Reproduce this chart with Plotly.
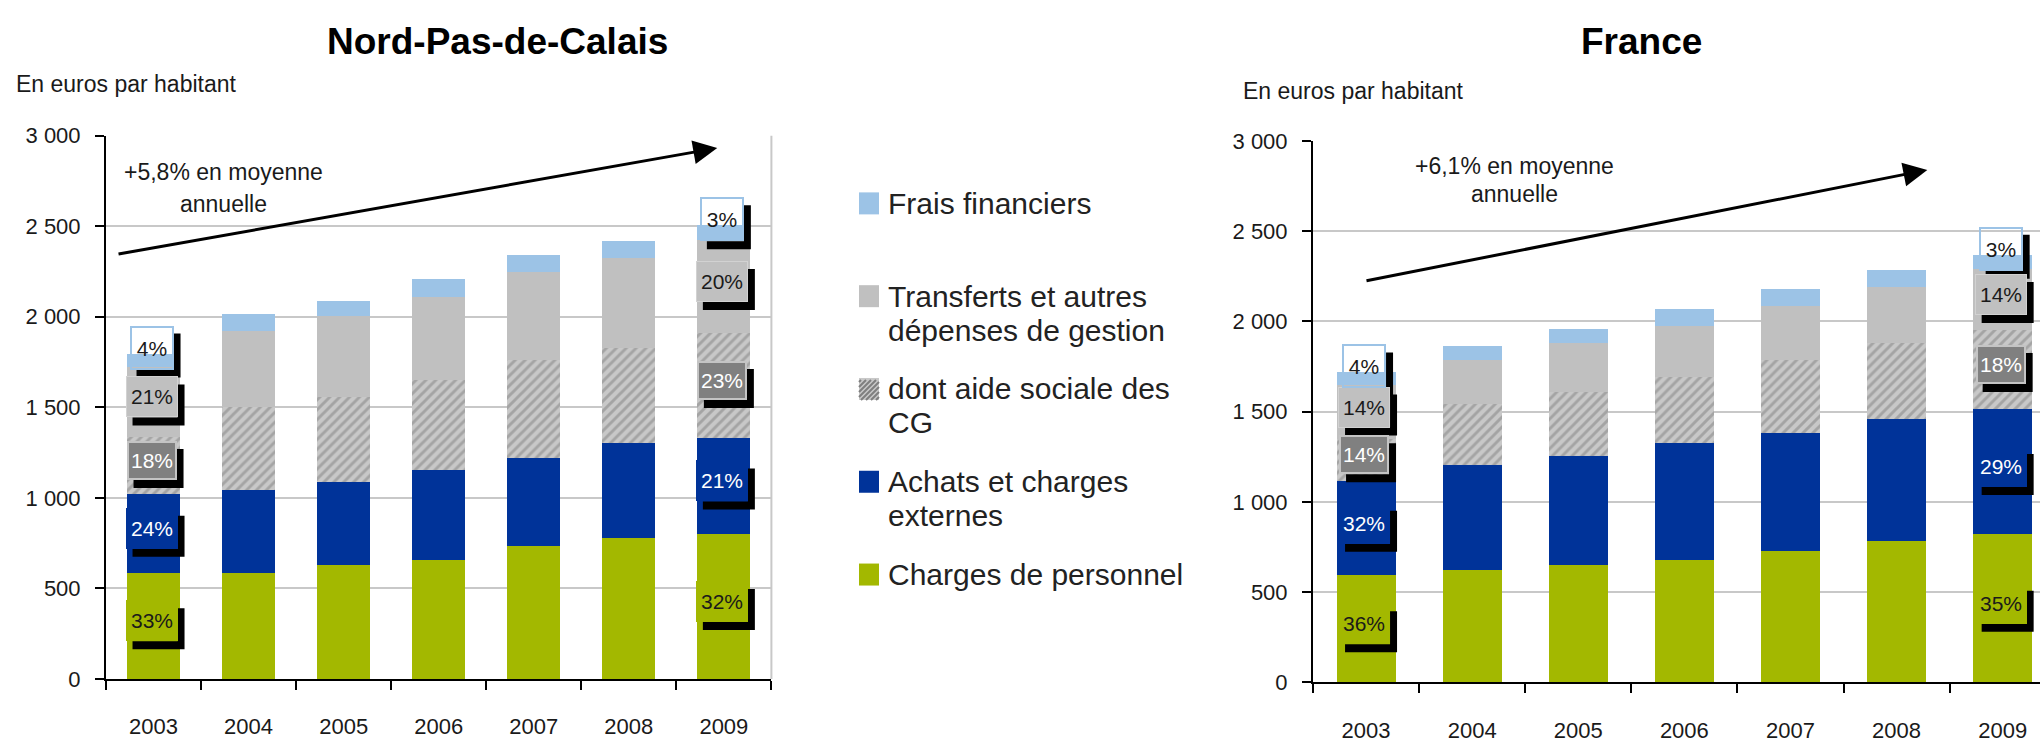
import plotly.graph_objects as go

# ---------------- data ----------------
years = ["2003", "2004", "2005", "2006", "2007", "2008", "2009"]

# Nord-Pas-de-Calais, euros per inhabitant (stack segments, bottom to top)
npdc_personnel = [587, 587, 628, 655, 735, 778, 800]
npdc_achats = [436, 458, 457, 498, 486, 524, 532]
npdc_aide_sociale = [312, 459, 472, 498, 541, 527, 578]
npdc_transferts = [390, 418, 445, 458, 484, 497, 515]
npdc_frais = [72, 94, 84, 97, 94, 94, 81]

# France
fr_personnel = [593, 620, 649, 676, 729, 783, 822]
fr_achats = [522, 582, 607, 649, 650, 676, 693]
fr_aide_sociale = [235, 339, 353, 366, 407, 421, 436]
fr_transferts = [295, 245, 269, 282, 298, 311, 339]
fr_frais = [72, 80, 81, 95, 94, 94, 79]

# percentage labels (bottom to top) for first and last year
npdc_pct_2003 = ["33%", "24%", "18%", "21%", "4%"]
npdc_pct_2009 = ["32%", "21%", "23%", "20%", "3%"]
fr_pct_2003 = ["36%", "32%", "14%", "14%", "4%"]
fr_pct_2009 = ["35%", "29%", "18%", "14%", "3%"]

series_names = ["Charges de personnel", "Achats et charges externes",
                "dont aide sociale des CG",
                "Transferts et autres dépenses de gestion", "Frais financiers"]
legend_labels = ["Frais financiers", "Transferts et autres<br>dépenses de gestion",
                 "dont aide sociale des<br>CG", "Achats et charges<br>externes",
                 "Charges de personnel"]

ytick_vals = [0, 500, 1000, 1500, 2000, 2500, 3000]
ytick_text = ["0", "500", "1 000", "1 500", "2 000", "2 500", "3 000"]

titles = ["Nord-Pas-de-Calais", "France"]
unit_label = "En euros par habitant"
growth_npdc = ["+5,8% en moyenne", "annuelle"]
growth_fr = ["+6,1% en moyenne", "annuelle"]

# ---------------- style ----------------
W, H = 2040, 748
FONT = "Liberation Sans, Arial, sans-serif"
GREEN = "#A3B800"
BLUE = "#003399"
GRAY = "#C0C0C0"
HATCH_BG = "#C8C8C8"
HATCH_FG = "#7F7F7F"
LBLUE = "#9CC3E6"
TXT = "#1a1a1a"
colors = [GREEN, BLUE, HATCH_BG, GRAY, LBLUE]


def px(x):
    return x / W


def py(y):
    return 1 - y / H


fig = go.Figure()

charts = [
    dict(xa="x", ya="y", series=[npdc_personnel, npdc_achats, npdc_aide_sociale, npdc_transferts, npdc_frais],
         pcts={0: npdc_pct_2003, 6: npdc_pct_2009}),
    dict(xa="x2", ya="y2", series=[fr_personnel, fr_achats, fr_aide_sociale, fr_transferts, fr_frais],
         pcts={0: fr_pct_2003, 6: fr_pct_2009}),
]

for ch in charts:
    for i, (name, vals) in enumerate(zip(series_names, ch["series"])):
        marker = dict(color=colors[i], line=dict(width=0))
        if i == 2:
            marker["pattern"] = dict(shape="/", bgcolor=HATCH_BG, fgcolor=HATCH_FG,
                                     size=7, solidity=0.42, fillmode="overlay")
        fig.add_trace(go.Bar(x=years, y=vals, name=name, marker=marker,
                             xaxis=ch["xa"], yaxis=ch["ya"], showlegend=False,
                             hoverinfo="skip"))

annotations = []
shapes = []

# label box styles per series
lab_style = [
    dict(bg=GREEN, bc=GREEN, bw=1, fc=TXT, w=46, h=35, pad=2),
    dict(bg=BLUE, bc=BLUE, bw=1, fc="white", w=46, h=35, pad=2),
    dict(bg="#808080", bc="#C4C4C4", bw=2, fc="white", w=44, h=33, pad=1),
    dict(bg=GRAY, bc="#D2D2D2", bw=1, fc=TXT, w=46, h=35, pad=2),
    dict(bg="rgba(0,0,0,0)", bc=LBLUE, bw=2, fc=TXT, w=38, h=38, pad=1),
]
SX, SY = -2, 5       # box offset from anchor (px, y up)
DX, DY = 7, 8        # drop-shadow offset


def shadow_path(sx, sy, hw, hh):
    pts = [(sx + hw, sy + hh - DY), (sx + hw + DX, sy + hh - DY), (sx + hw + DX, sy - hh - DY),
           (sx - hw + DX, sy - hh - DY), (sx - hw + DX, sy - hh), (sx + hw, sy - hh)]
    return "M " + " L ".join(f"{a},{b}" for a, b in pts) + " Z"


for ch in charts:
    for idx, labels in ch["pcts"].items():
        bottom = 0
        for i, txt in enumerate(labels):
            seg = ch["series"][i][idx]
            st = lab_style[i]
            if i == 4:
                yval = bottom + seg
                sy = 6
            else:
                yval = bottom + seg / 2
                sy = SY
            bottom += seg
            hw = (st["w"] + 2 * (st["bw"] + st["pad"])) / 2
            hh = (st["h"] + 2 * (st["bw"] + st["pad"])) / 2
            shapes.append(dict(type="path", xref=ch["xa"], yref=ch["ya"],
                               xsizemode="pixel", ysizemode="pixel",
                               xanchor=idx, yanchor=yval,
                               path=shadow_path(SX, sy, hw, hh),
                               fillcolor="black", line=dict(width=0), layer="above"))
            annotations.append(dict(x=idx, y=yval, xref=ch["xa"], yref=ch["ya"],
                                    text=txt, showarrow=False, xshift=SX, yshift=sy,
                                    width=st["w"], height=st["h"], borderpad=st["pad"],
                                    bgcolor=st["bg"], bordercolor=st["bc"], borderwidth=st["bw"],
                                    font=dict(family=FONT, size=21, color=st["fc"]),
                                    xanchor="center", yanchor="middle", align="center",
                                    valign="middle"))

# growth arrows
annotations.append(dict(x=5.93, y=2932, ax=-0.384, ay=2345, xref="x", yref="y",
                        axref="x", ayref="y", text="", showarrow=True, arrowhead=2,
                        arrowsize=1.6, arrowwidth=3, arrowcolor="black", standoff=0))
annotations.append(dict(x=5.29, y=2839, ax=-0.01, ay=2223, xref="x2", yref="y2",
                        axref="x2", ayref="y2", text="", showarrow=True, arrowhead=2,
                        arrowsize=1.6, arrowwidth=3, arrowcolor="black", standoff=0))


def text_ann(text, x, y, size, xanchor="center", bold=False, color=TXT):
    return dict(x=px(x), y=py(y), xref="paper", yref="paper",
                text=f"<b>{text}</b>" if bold else text, showarrow=False,
                xanchor=xanchor, yanchor="middle",
                font=dict(family=FONT, size=size, color=color))


annotations.append(text_ann(titles[0], 497, 31, 37, bold=True, color="black"))
annotations.append(text_ann(titles[1], 1641, 31, 37, bold=True, color="black"))
annotations.append(text_ann(unit_label, 14, 74, 23, xanchor="left"))
annotations.append(text_ann(unit_label, 1241, 82, 23, xanchor="left"))
annotations.append(text_ann(growth_npdc[0], 223, 166, 23))
annotations.append(text_ann(growth_npdc[1], 223, 199, 23))
annotations.append(text_ann(growth_fr[0], 1514, 159, 23))
annotations.append(text_ann(growth_fr[1], 1514, 188, 23))

# legend (manual)
leg_swatch = [LBLUE, GRAY, "hatch", BLUE, GREEN]
for k, lab in enumerate(legend_labels):
    cy = 198 + 96 * k
    for j, line in enumerate(lab.split("<br>")):
        annotations.append(text_ann(line, 886, cy + 35 * j, 30, xanchor="left", color="#222222"))
    fill = HATCH_BG if leg_swatch[k] == "hatch" else leg_swatch[k]
    shapes.append(dict(type="rect", xref="paper", yref="paper",
                       xsizemode="pixel", ysizemode="pixel", xanchor=px(869), yanchor=py(cy),
                       x0=-10, x1=10, y0=-11, y1=11, fillcolor=fill, line=dict(width=0)))
    if leg_swatch[k] == "hatch":
        segs = []
        for c in range(-18, 20, 5):
            u0, u1 = max(0, c), min(20, 20 + c)
            segs.append(f"M {u0 - 10},{u0 - c - 11} L {u1 - 10},{u1 - c - 11}")
        shapes.append(dict(type="path", xref="paper", yref="paper",
                           xsizemode="pixel", ysizemode="pixel", xanchor=px(869), yanchor=py(cy),
                           path=" ".join(segs), line=dict(color=HATCH_FG, width=2)))

# right frame of left chart
shapes.append(dict(type="line", xref="x domain", yref="y domain", x0=1, x1=1, y0=0, y1=1,
                   line=dict(color="#C8C8C8", width=2), layer="below"))

axis_common = dict(type="category", showline=True, linecolor="black", linewidth=2,
                   ticks="outside", tickson="boundaries", ticklen=9, tickwidth=2,
                   tickcolor="black", showgrid=False, ticklabelstandoff=27,
                   tickfont=dict(family=FONT, size=22, color=TXT), fixedrange=True)
yaxis_common = dict(range=[0, 3000], tickvals=ytick_vals, ticktext=ytick_text,
                    showgrid=True, gridcolor="#C8C8C8", gridwidth=2, zeroline=False,
                    showline=True, linecolor="black", linewidth=2, ticks="outside",
                    ticklen=9, tickwidth=2, tickcolor="black", ticklabelstandoff=10,
                    tickfont=dict(family=FONT, size=22, color=TXT), fixedrange=True)

fig.update_layout(
    width=W, height=H, margin=dict(l=0, r=0, t=0, b=0),
    paper_bgcolor="white", plot_bgcolor="white",
    barmode="stack", bargap=0.443, showlegend=False,
    font=dict(family=FONT, color=TXT),
    xaxis=dict(axis_common, domain=[px(106), px(771.4)], range=[-0.5, 6.5], anchor="y"),
    yaxis=dict(yaxis_common, domain=[py(690), py(128)], anchor="x"),
    xaxis2=dict(axis_common, domain=[px(1313), 1.0], range=[-0.5, 6.352], anchor="y2"),
    yaxis2=dict(yaxis_common, domain=[py(693.5), py(133.3)], anchor="x2"),
    annotations=annotations, shapes=shapes,
)

fig.write_html("out.html", config={"displayModeBar": False},
               post_script="document.body.style.margin='0';document.body.style.overflow='hidden';")
